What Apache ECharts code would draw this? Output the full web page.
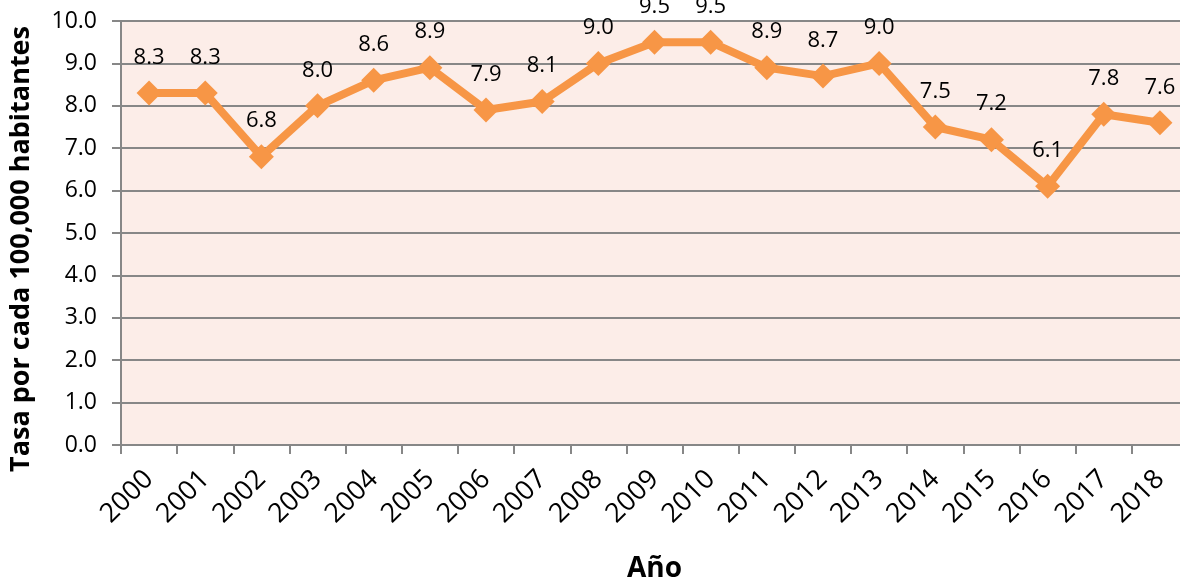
<!DOCTYPE html>
<html>
<head>
<meta charset="utf-8">
<script src="https://cdn.jsdelivr.net/npm/echarts@6/dist/echarts.min.js"></script>
<style>
  html, body { margin: 0; padding: 0; background: #fff; }
  #chart { width: 1180px; height: 582px; }
</style>
</head>
<body>
<div id="chart"></div>
<script>
var years = ['2000', '2001', '2002', '2003', '2004', '2005', '2006', '2007', '2008', '2009',
             '2010', '2011', '2012', '2013', '2014', '2015', '2016', '2017', '2018'];
var tasa = [8.3, 8.3, 6.8, 8.0, 8.6, 8.9, 7.9, 8.1, 9.0, 9.5,
            9.5, 8.9, 8.7, 9.0, 7.5, 7.2, 6.1, 7.8, 7.6];

var fuente = '"Open Sans", "Noto Sans", sans-serif';
var gris = '#878787';

var myChart = echarts.init(document.getElementById('chart'));
var option = {
    animation: false,
    grid: {
        left: 121, top: 21, width: 1067, height: 424,
        outerBoundsMode: 'none', containLabel: false,
        show: true, backgroundColor: '#fcede8', borderWidth: 0
    },
    xAxis: {
        type: 'category',
        data: years,
        boundaryGap: true,
        name: 'Año',
        nameLocation: 'middle',
        nameGap: 110,
        nameTextStyle: { fontFamily: fuente, fontSize: 28, fontWeight: 'bold', color: '#000' },
        axisLine: { lineStyle: { color: gris, width: 2 } },
        axisTick: { show: true, length: 9, alignWithLabel: false, lineStyle: { color: gris, width: 2 } },
        axisLabel: { rotate: 45, margin: 30, fontFamily: fuente, fontSize: 27, color: '#000' }
    },
    yAxis: {
        type: 'value',
        min: 0, max: 10, interval: 1,
        name: 'Tasa por cada 100,000 habitantes',
        nameLocation: 'middle',
        nameGap: 86,
        nameTextStyle: { fontFamily: fuente, fontSize: 27, fontWeight: 'bold', color: '#000', padding: [0, 32, 0, 0] },
        axisLine: { show: true, lineStyle: { color: gris, width: 2 } },
        axisTick: { show: true, length: 9, lineStyle: { color: gris, width: 2 } },
        axisLabel: {
            margin: 24, fontFamily: fuente, fontSize: 23, color: '#000',
            formatter: function (v) { return v.toFixed(1); }
        },
        splitLine: { show: true, lineStyle: { color: gris, width: 2 } }
    },
    series: [{
        type: 'line',
        data: tasa,
        symbol: 'diamond',
        symbolSize: 25,
        lineStyle: { color: '#f79646', width: 8 },
        itemStyle: { color: '#f79646' },
        label: {
            show: true, position: 'top', distance: 12,
            fontFamily: fuente, fontSize: 22, color: '#000',
            formatter: function (p) { return p.value.toFixed(1); }
        }
    }]
};
myChart.setOption(option);
</script>
</body>
</html>
